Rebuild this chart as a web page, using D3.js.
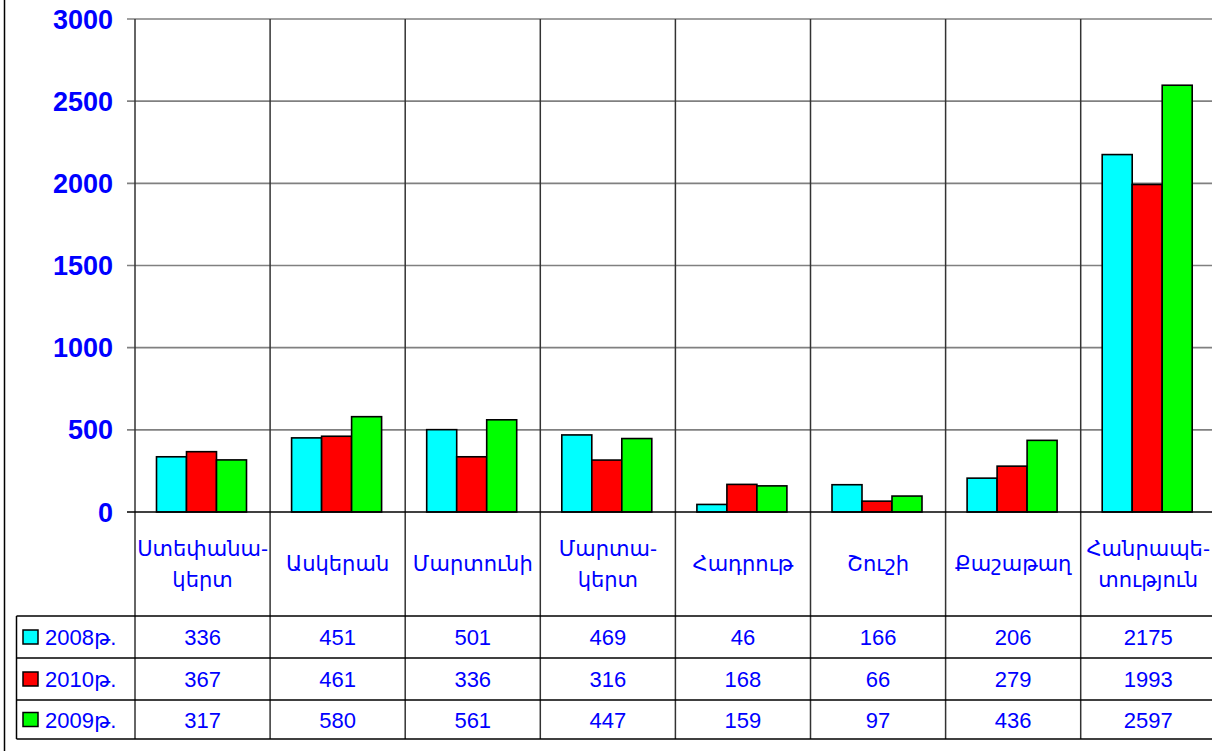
<!DOCTYPE html>
<html><head><meta charset="utf-8">
<script src="https://cdn.jsdelivr.net/npm/d3@7"></script>
<style>body{margin:0;background:#fff;}svg{display:block;}</style>
</head><body>
<svg id="c" width="1212" height="751"></svg>
<script>
const categories = [["Ստեփանա-","կերտ"],["Ասկերան"],["Մարտունի"],["Մարտա-","կերտ"],["Հադրութ"],["Շուշի"],["Քաշաթաղ"],["Հանրապե-","տություն"]];
const seriesNames = ["2008թ.","2010թ.","2009թ."];
const seriesColors = ["#00ffff","#ff0000","#00ff00"];
const values2008 = [336,451,501,469,46,166,206,2175];
const values2010 = [367,461,336,316,168,66,279,1993];
const values2009 = [317,580,561,447,159,97,436,2597];
const yTicks = [0,500,1000,1500,2000,2500,3000];
const series = [values2008, values2010, values2009];

const svg = d3.select("#c");
const L = 135, T = 19, B = 512, step = 135.1;
const font = "'Liberation Sans', Arial, 'DejaVu Sans', sans-serif";
const idx = d3.range(categories.length);
const x = d3.scaleBand().domain(idx).range([L, L + step*categories.length]).padding(0);
const xs = d3.scaleBand().domain(d3.range(series.length)).range([21.5, 111.5]).padding(0);
const y = d3.scaleLinear().domain([0,3000]).range([B, T]);

// outer left border
svg.append("line").attr("x1",4.5).attr("x2",4.5).attr("y1",0).attr("y2",751).attr("stroke","#000").attr("stroke-width",1.5);

// horizontal gridlines
svg.append("g").selectAll("line").data(yTicks.filter(d=>d>0)).join("line")
  .attr("x1",127).attr("x2",1212).attr("y1",d=>y(d)).attr("y2",d=>y(d))
  .attr("stroke","#808080").attr("stroke-width",1.6);

// y axis labels
svg.append("g").selectAll("text").data(yTicks).join("text")
  .attr("x",113).attr("y",d=>y(d)+9.5).attr("text-anchor","end")
  .attr("font-family",font).attr("font-weight","bold").attr("font-size",27).attr("fill","#0000ff")
  .text(d=>d);

// vertical category lines
const bounds = idx.map(i=>x(i)).concat([x(idx.length-1)+x.bandwidth()]);
svg.append("g").selectAll("line").data(bounds).join("line")
  .attr("x1",d=>d).attr("x2",d=>d).attr("y1",T).attr("y2",739)
  .attr("stroke","#333").attr("stroke-width",1.5);

// bars
series.forEach((vals, s) => {
  svg.append("g").selectAll("rect").data(vals).join("rect")
    .attr("x",(d,i)=>x(i)+xs(s)).attr("width",xs.bandwidth())
    .attr("y",d=>y(d)).attr("height",d=>B-y(d))
    .attr("fill",seriesColors[s]).attr("stroke","#000").attr("stroke-width",1.6);
});

// zero line
svg.append("line").attr("x1",127).attr("x2",1212).attr("y1",B).attr("y2",B).attr("stroke","#000").attr("stroke-width",1.5);

// category labels
const cg = svg.append("g");
categories.forEach((lines,i)=>{
  const cx = x(i)+x.bandwidth()/2;
  const t = cg.append("text").attr("text-anchor","middle").attr("font-family",font)
    .attr("font-size",21).attr("fill","#0000ff");
  if (lines.length===1) {
    t.append("tspan").attr("x",cx).attr("y",571).text(lines[0]);
  } else {
    t.append("tspan").attr("x",cx).attr("y",556).text(lines[0]);
    t.append("tspan").attr("x",cx).attr("y",587).text(lines[1]);
  }
});

// data table
const rows = [616,658,700,739];
svg.append("g").selectAll("line").data(rows).join("line")
  .attr("x1",16.5).attr("x2",1212).attr("y1",d=>d).attr("y2",d=>d)
  .attr("stroke","#000").attr("stroke-width",1.5);
svg.append("line").attr("x1",16.5).attr("x2",16.5).attr("y1",616).attr("y2",739).attr("stroke","#000").attr("stroke-width",1.5);

series.forEach((vals,s)=>{
  const cy = (rows[s]+rows[s+1])/2;
  svg.append("rect").attr("x",23).attr("y",cy-7).attr("width",15).attr("height",14)
    .attr("fill",seriesColors[s]).attr("stroke","#000").attr("stroke-width",1.5);
  svg.append("text").attr("x",45).attr("y",cy+8).attr("font-family",font).attr("font-size",22)
    .attr("fill","#0000ff").text(seriesNames[s]);
  svg.append("g").selectAll("text").data(vals).join("text")
    .attr("x",(d,i)=>x(i)+x.bandwidth()/2).attr("y",cy+8).attr("text-anchor","middle")
    .attr("font-family",font).attr("font-size",22).attr("fill","#0000ff").text(d=>d);
});
</script>
</body></html>
